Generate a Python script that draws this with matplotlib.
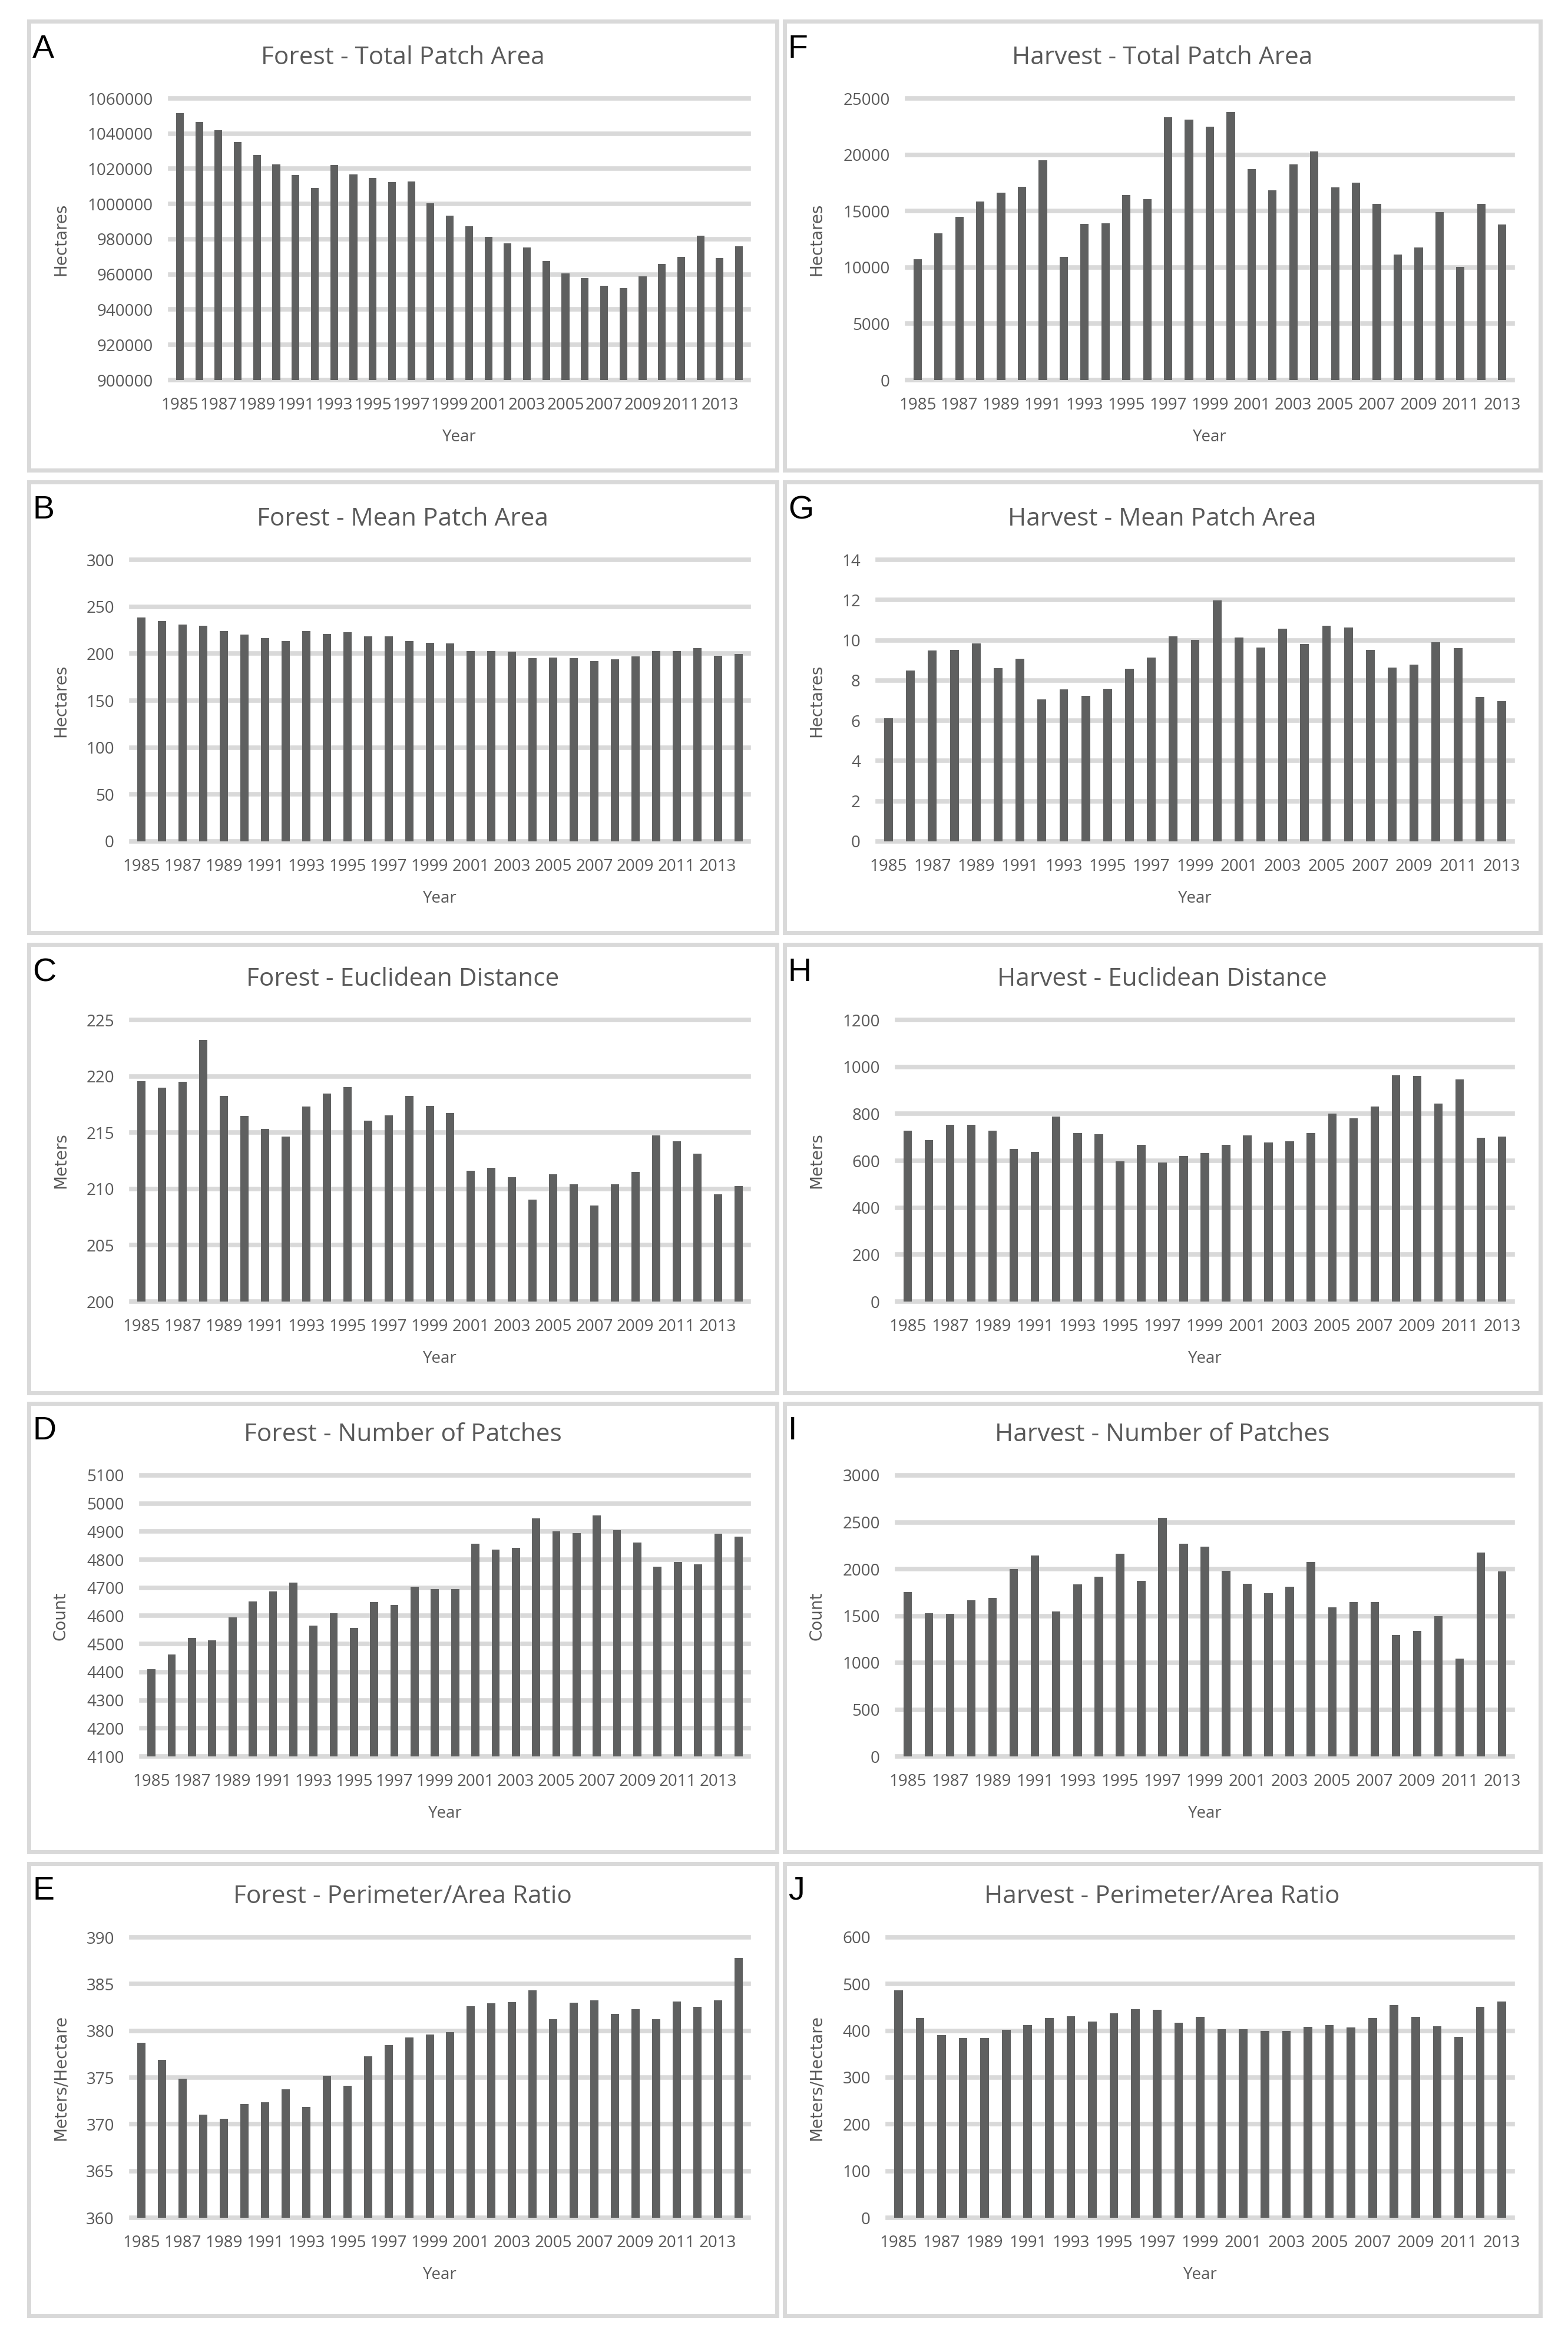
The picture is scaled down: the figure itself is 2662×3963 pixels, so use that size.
import matplotlib
matplotlib.use("Agg")
import matplotlib.pyplot as plt
from matplotlib.patches import Rectangle

# Data
years_forest = list(range(1985, 2015))
years_harvest = list(range(1985, 2014))

forest_total_area = [1051700, 1046450, 1042000, 1035370, 1027930, 1022480, 1016530, 1009090,
                     1022150, 1016860, 1014880, 1012400, 1012730, 1000330, 993550, 987440,
                     981490, 977690, 975370, 967600, 960660, 957850, 953550, 952230,
                     958840, 965950, 970080, 982150, 969420, 976030]
forest_mean_area = [238.5, 234.5, 230.8, 229.5, 224.0, 220.2, 216.8, 213.7, 224.0, 220.8,
                    222.7, 218.4, 218.4, 213.1, 211.2, 210.6, 202.5, 202.5, 201.9, 195.4,
                    196.0, 195.4, 192.3, 194.2, 197.3, 202.5, 202.5, 205.6, 197.9, 199.8]
forest_euclid = [219.58, 218.98, 219.5, 223.24, 218.26, 216.5, 215.32, 214.67, 217.3, 218.47,
                 219.03, 216.04, 216.55, 218.26, 217.36, 216.74, 211.62, 211.88, 211.05, 209.04,
                 211.31, 210.41, 208.52, 210.41, 211.52, 214.77, 214.2, 213.15, 209.5, 210.25]
forest_patches = [4411, 4462, 4521, 4513, 4594, 4651, 4686, 4718, 4566, 4609,
                  4558, 4649, 4639, 4703, 4696, 4696, 4857, 4836, 4842, 4948,
                  4901, 4895, 4958, 4905, 4861, 4775, 4792, 4783, 4893, 4883]
forest_pa_ratio = [378.69, 376.92, 374.89, 371.04, 370.57, 372.16, 372.34, 373.74, 371.85, 375.2,
                   374.12, 377.29, 378.44, 379.31, 379.62, 379.84, 382.6, 382.92, 383.04, 384.32,
                   381.21, 382.98, 383.26, 381.8, 382.3, 381.27, 383.16, 382.54, 383.26, 387.8]

harvest_total_area = [10700, 13030, 14508, 15830, 16632, 17150, 19534, 10933, 13834, 13886,
                      16399, 16036, 23316, 23109, 22487, 23782, 18731, 16839, 19145, 20311,
                      17098, 17513, 15622, 11140, 11762, 14922, 10026, 15622, 13782]
harvest_mean_area = [6.11, 8.49, 9.48, 9.51, 9.83, 8.60, 9.09, 7.06, 7.55, 7.24,
                     7.58, 8.57, 9.15, 10.19, 10.03, 11.98, 10.14, 9.65, 10.56, 9.80,
                     10.71, 10.62, 9.51, 8.63, 8.80, 9.91, 9.62, 7.18, 6.98]
harvest_euclid = [729, 689, 753, 753, 728, 650, 638, 788, 719, 714,
                  598, 667, 593, 621, 633, 669, 708, 679, 682, 719,
                  801, 780, 831, 965, 962, 844, 946, 697, 704]
harvest_patches = [1752, 1528, 1525, 1665, 1690, 2000, 2146, 1550, 1835, 1916,
                   2165, 1873, 2550, 2270, 2239, 1981, 1842, 1745, 1811, 2075,
                   1593, 1646, 1646, 1298, 1342, 1500, 1043, 2177, 1975]
harvest_pa_ratio = [486, 427, 391, 384, 385, 402, 412, 427, 431, 420,
                    438, 446, 445, 417, 430, 403, 403, 399, 399, 409,
                    412, 407, 427, 455, 430, 410, 387, 451, 462]

W, H = 2662, 3963
DPI = 100
BAR_COLOR = "#5f6060"
GRID_COLOR = "#d9d9d9"
TEXT_COLOR = "#595959"
BOX_COLOR = "#d9d9d9"

col_x = [(45, 1322), (1328, 2618)]
row_y = [(33, 802), (815, 1587), (1600, 2368), (2378, 3146), (3159, 3933)]

# letter, title, ylabel, years, values, ylim, ystep, col, row, ax_left, ax_top, ax_bottom
panels = [
    ("A", "Forest - Total Patch Area", "Hectares", years_forest, forest_total_area,
     (900000, 1060000), 20000, 0, 0, 289, 167, 645),
    ("B", "Forest - Mean Patch Area", "Hectares", years_forest, forest_mean_area,
     (0, 300), 50, 0, 1, 223, 950, 1428),
    ("C", "Forest - Euclidean Distance", "Meters", years_forest, forest_euclid,
     (200, 225), 5, 0, 2, 223, 1731, 2209),
    ("D", "Forest - Number of Patches", "Count", years_forest, forest_patches,
     (4100, 5100), 100, 0, 3, 240, 2504, 2981),
    ("E", "Forest - Perimeter/Area Ratio", "Meters/Hectare", years_forest, forest_pa_ratio,
     (360, 390), 5, 0, 4, 223, 3288, 3764),
    ("F", "Harvest - Total Patch Area", "Hectares", years_harvest, harvest_total_area,
     (0, 25000), 5000, 1, 0, 1540, 167, 645),
    ("G", "Harvest - Mean Patch Area", "Hectares", years_harvest, harvest_mean_area,
     (0, 14), 2, 1, 1, 1490, 950, 1428),
    ("H", "Harvest - Euclidean Distance", "Meters", years_harvest, harvest_euclid,
     (0, 1200), 200, 1, 2, 1523, 1731, 2209),
    ("I", "Harvest - Number of Patches", "Count", years_harvest, harvest_patches,
     (0, 3000), 500, 1, 3, 1523, 2504, 2981),
    ("J", "Harvest - Perimeter/Area Ratio", "Meters/Hectare", years_harvest, harvest_pa_ratio,
     (0, 600), 100, 1, 4, 1507, 3288, 3764),
]

plt.rcParams["font.family"] = ["Open Sans", "DejaVu Sans"]

fig = plt.figure(figsize=(W / DPI, H / DPI), dpi=DPI, facecolor="white")


def fx(px):
    return px / W


def fy(py):
    return 1 - py / H


for letter, title, ylabel, years, values, ylim, ystep, col, row, left, top, bottom in panels:
    bx0, bx1 = col_x[col]
    by0, by1 = row_y[row]

    # panel border
    fig.patches.append(Rectangle((fx(bx0 + 3.5), fy(by1 - 3.5)), fx(bx1 - bx0 - 7), (by1 - by0 - 7) / H,
                                 transform=fig.transFigure, fill=False,
                                 edgecolor=BOX_COLOR, linewidth=5))

    right = 2568 if col == 1 else 1271
    ax = fig.add_axes([fx(left), fy(bottom), fx(right - left), (bottom - top) / H])

    n = len(years)
    ax.bar(range(n), values, width=0.4, color=BAR_COLOR, zorder=3)
    ax.set_xlim(-0.5, n - 0.5)
    ax.set_ylim(*ylim)

    yt = list(range(int(ylim[0]), int(ylim[1]) + 1, int(ystep)))
    ax.set_yticks(yt)
    ax.set_yticklabels([str(v) for v in yt])
    ax.set_xticks(range(0, n, 2))
    ax.set_xticklabels([str(years[i]) for i in range(0, n, 2)])

    ax.tick_params(axis="y", length=0, pad=21, labelsize=20, labelcolor=TEXT_COLOR)
    ax.tick_params(axis="x", length=0, pad=21, labelsize=20, labelcolor=TEXT_COLOR)

    ax.yaxis.grid(True, color=GRID_COLOR, linewidth=5.5, zorder=0)
    ax.set_axisbelow(True)
    for gl in ax.get_ygridlines():
        gl.set_clip_on(False)
    for s in ax.spines.values():
        s.set_visible(False)

    ax.set_ylabel(ylabel, family="DejaVu Sans", fontsize=20, color=TEXT_COLOR)
    ax.yaxis.set_label_coords((bx0 + 72 - left) / (right - left), 0.5)

    fig.text(fx((bx0 + bx1) / 2), fy(top - 58), title, ha="center", va="baseline",
             fontsize=30.5, color=TEXT_COLOR)
    fig.text(fx((left + right) / 2), fy(bottom + 104), "Year", ha="center", va="baseline",
             fontsize=20, color=TEXT_COLOR)
    fig.text(fx(bx0 + 10), fy(by0 + 65), letter, ha="left", va="baseline",
             fontsize=40, family="Liberation Sans", color="black")

fig.savefig("out.png", dpi=DPI, facecolor="white")
